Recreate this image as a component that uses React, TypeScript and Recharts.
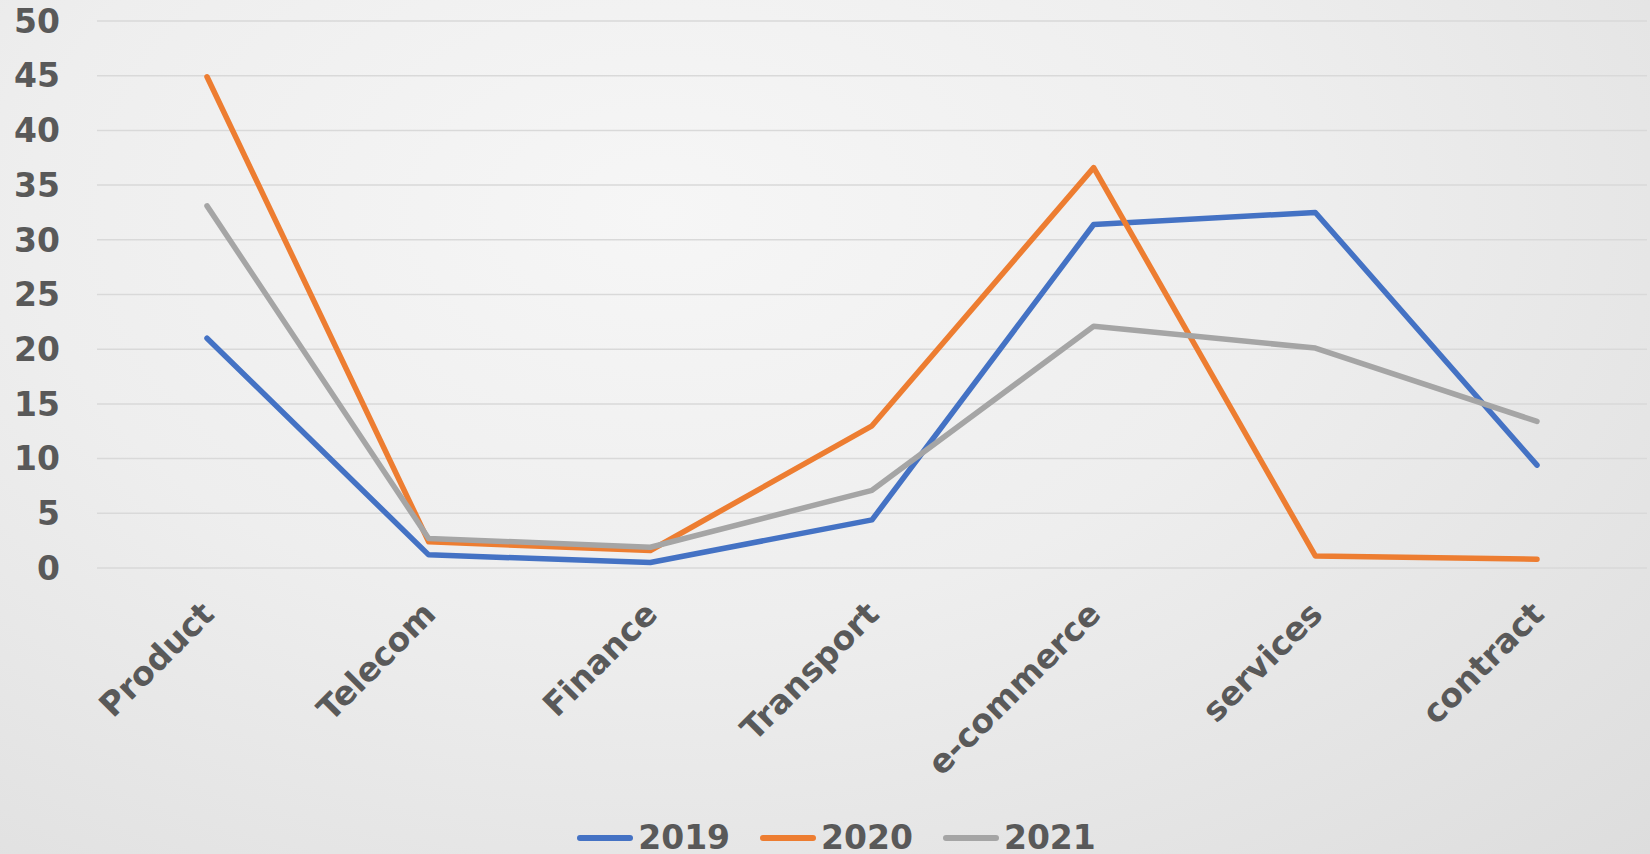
import React from 'react';
import { LineChart, Line, XAxis, YAxis, CartesianGrid, Legend } from 'recharts';

const categories = ['Product', 'Telecom', 'Finance', 'Transport', 'e-commerce', 'services', 'contract'];
const values2019 = [21, 1.2, 0.5, 4.4, 31.4, 32.5, 9.4];
const values2020 = [44.9, 2.4, 1.6, 13, 36.6, 1.1, 0.8];
const values2021 = [33.1, 2.7, 1.9, 7.1, 22.1, 20.1, 13.4];
const yTicks = [0, 5, 10, 15, 20, 25, 30, 35, 40, 45, 50];

const seriesList = [
  { key: 's2019', name: '2019', color: '#4472C4' },
  { key: 's2020', name: '2020', color: '#ED7D31' },
  { key: 's2021', name: '2021', color: '#A5A5A5' },
];

const data = categories.map((c, i) => ({
  name: c,
  s2019: values2019[i],
  s2020: values2020[i],
  s2021: values2021[i],
}));

const FONT = '"DejaVu Sans", Verdana, sans-serif';
const TEXT = '#595959';

const XTick = (props: any) => {
  const { x, y, payload } = props;
  const ax = x + 9;
  const ay = y + 48;
  return (
    <text
      x={ax}
      y={ay}
      transform={`rotate(-45, ${ax}, ${ay})`}
      textAnchor="end"
      fontFamily={FONT}
      fontWeight="bold"
      fontSize={33}
      fill={TEXT}
    >
      {payload.value}
    </text>
  );
};

const LegendContent = () => (
  <div
    style={{
      height: 50,
      display: 'flex',
      justifyContent: 'center',
      alignItems: 'flex-end',
      paddingLeft: 26,
      boxSizing: 'border-box',
      fontFamily: FONT,
      fontWeight: 'bold',
      fontSize: 33,
      color: TEXT,
      lineHeight: '32px',
    }}
  >
    {seriesList.map((s) => (
      <div key={s.key} style={{ display: 'flex', alignItems: 'center', margin: '0 15px' }}>
        <div style={{ width: 56, height: 6, borderRadius: 3, background: s.color, marginRight: 5 }} />
        <span>{s.name}</span>
      </div>
    ))}
  </div>
);

export default function App() {
  return (
    <div
      style={{
        position: 'absolute',
        top: 0,
        left: 0,
        width: 1650,
        height: 854,
        background: 'radial-gradient(ellipse at 40% 25%, #f6f6f6 0%, #eeeeee 45%, #dddddd 100%)',
      }}
    >
      <LineChart width={1650} height={854} data={data} margin={{ top: 21, right: 3, left: 0, bottom: 0 }}>
        <CartesianGrid vertical={false} stroke="#d9d9d9" strokeWidth={1.5} />
        <XAxis
          dataKey="name"
          axisLine={false}
          tickLine={false}
          tickSize={0}
          tickMargin={0}
          height={236}
          interval={0}
          padding={{ left: 110, right: 110 }}
          tick={<XTick />}
        />
        <YAxis
          domain={[0, 50]}
          ticks={yTicks}
          width={97}
          axisLine={false}
          tickLine={false}
          tickSize={0}
          tickMargin={37}
          tick={{ fontFamily: FONT, fontWeight: 'bold', fontSize: 33, fill: TEXT }}
        />
        <Legend verticalAlign="bottom" height={50} content={<LegendContent />} />
        {seriesList.map((s) => (
          <Line
            key={s.key}
            type="linear"
            dataKey={s.key}
            name={s.name}
            stroke={s.color}
            strokeWidth={5.5}
            strokeLinecap="round"
            strokeLinejoin="round"
            dot={false}
            activeDot={false}
            isAnimationActive={false}
          />
        ))}
      </LineChart>
    </div>
  );
}
